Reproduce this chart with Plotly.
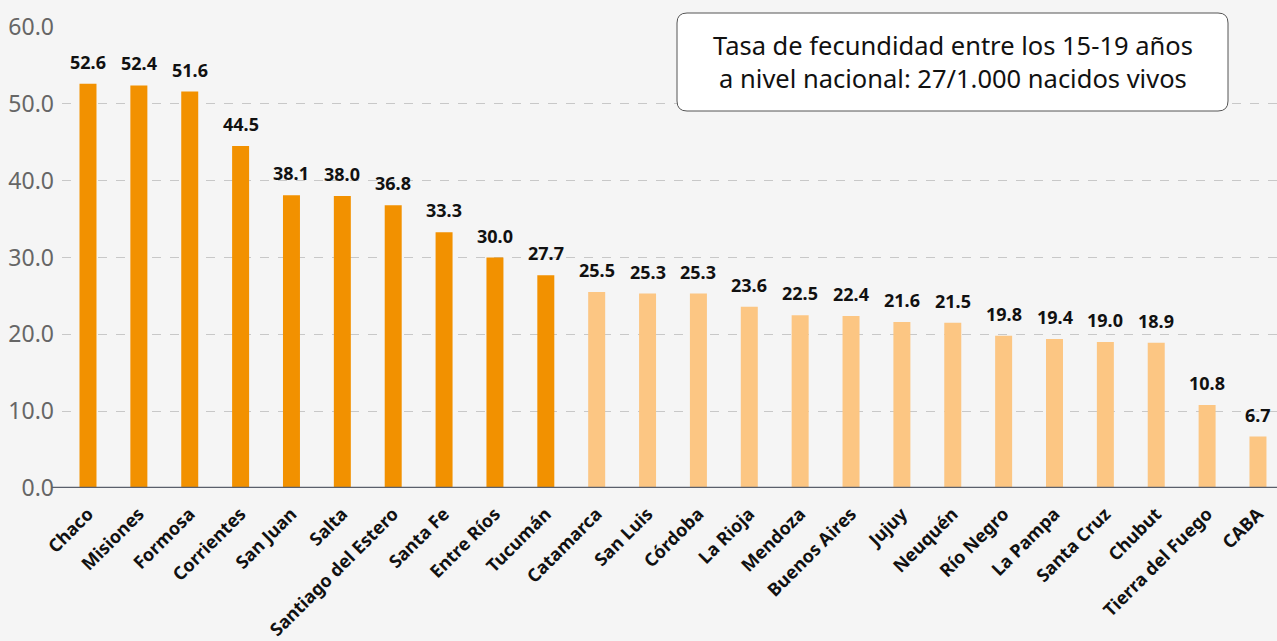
import plotly.graph_objects as go

provinces = ["Chaco", "Misiones", "Formosa", "Corrientes", "San Juan", "Salta",
             "Santiago del Estero", "Santa Fe", "Entre Ríos", "Tucumán", "Catamarca",
             "San Luis", "Córdoba", "La Rioja", "Mendoza", "Buenos Aires", "Jujuy",
             "Neuquén", "Río Negro", "La Pampa", "Santa Cruz", "Chubut",
             "Tierra del Fuego", "CABA"]
values = [52.6, 52.4, 51.6, 44.5, 38.1, 38.0, 36.8, 33.3, 30.0, 27.7, 25.5, 25.3,
          25.3, 23.6, 22.5, 22.4, 21.6, 21.5, 19.8, 19.4, 19.0, 18.9, 10.8, 6.7]
national_rate = 27
y_ticks = [0, 10, 20, 30, 40, 50, 60]

DARK = "#F29100"
LIGHT = "#FCC683"
colors = [DARK if v > national_rate else LIGHT for v in values]

fig = go.Figure()
fig.add_trace(go.Bar(x=provinces, y=values, marker_color=colors, marker_line_width=0,
                     hoverinfo="x+y"))

value_labels = [dict(x=p, y=v, xref="x", yref="y", text=f"{v:.1f}", showarrow=False,
                     xanchor="center", yanchor="bottom", yshift=8,
                     font=dict(family="Noto Sans", size=18, color="#111111", weight="bold"))
                for p, v in zip(provinces, values)]

# rounded box for the note (paper coordinates)
PW = 1215.0
PH = 461.0
x0, x1 = (677 - 62) / PW, (1228 - 62) / PW
y0, y1 = (488 - 111) / PH, (488 - 13) / PH
rx, ry = 10 / PW, 10 / PH
box_path = (f"M {x0+rx},{y0} L {x1-rx},{y0} Q {x1},{y0} {x1},{y0+ry} "
            f"L {x1},{y1-ry} Q {x1},{y1} {x1-rx},{y1} L {x0+rx},{y1} "
            f"Q {x0},{y1} {x0},{y1-ry} L {x0},{y0+ry} Q {x0},{y0} {x0+rx},{y0} Z")

note = dict(
    xref="paper", yref="paper", x=(953 - 62) / PW, y=(488 - 62) / PH,
    xanchor="center", yanchor="middle",
    text="Tasa de fecundidad entre los 15-19 años<br>a nivel nacional: 27/1.000 nacidos vivos",
    showarrow=False, align="center",
    font=dict(family="Noto Sans", size=25.5, color="#111111"),
)

fig.update_layout(
    width=1277, height=641,
    paper_bgcolor="#F5F5F5", plot_bgcolor="#F5F5F5",
    margin=dict(l=62, r=0, t=27, b=153),
    bargap=0.666, showlegend=False,
    font=dict(family="Noto Sans"),
    xaxis=dict(range=[-0.511, 23.374], tickangle=-45, showgrid=False,
               showline=False, ticks="", ticklabelstandoff=11,
               tickfont=dict(family="Noto Sans", size=18, color="#111111", weight="bold")),
    yaxis=dict(range=[0, 60], tickvals=y_ticks, ticktext=[f"{t:.1f}" for t in y_ticks],
               showgrid=True, gridcolor="#C8C8C8", griddash="dash", gridwidth=1,
               zeroline=False, ticks="", ticklabelstandoff=7,
               tickfont=dict(family="Noto Sans", size=23, color="#666666")),
    shapes=[
        dict(type="line", xref="paper", yref="y", x0=-10 / PW, x1=1, y0=0, y1=0,
             line=dict(color="#5A5F6B", width=2.5)),
        dict(type="path", xref="paper", yref="paper", path=box_path,
             fillcolor="#FFFFFF", line=dict(color="#555555", width=1), layer="above"),
    ],
    annotations=value_labels + [note],
)

fig.write_html("out.html", config={"displayModeBar": False})
with open("out.html", encoding="utf-8") as f:
    html = f.read()
html = html.replace("<body>", '<body style="margin:0;padding:0;background:#F5F5F5">', 1)
with open("out.html", "w", encoding="utf-8") as f:
    f.write(html)
